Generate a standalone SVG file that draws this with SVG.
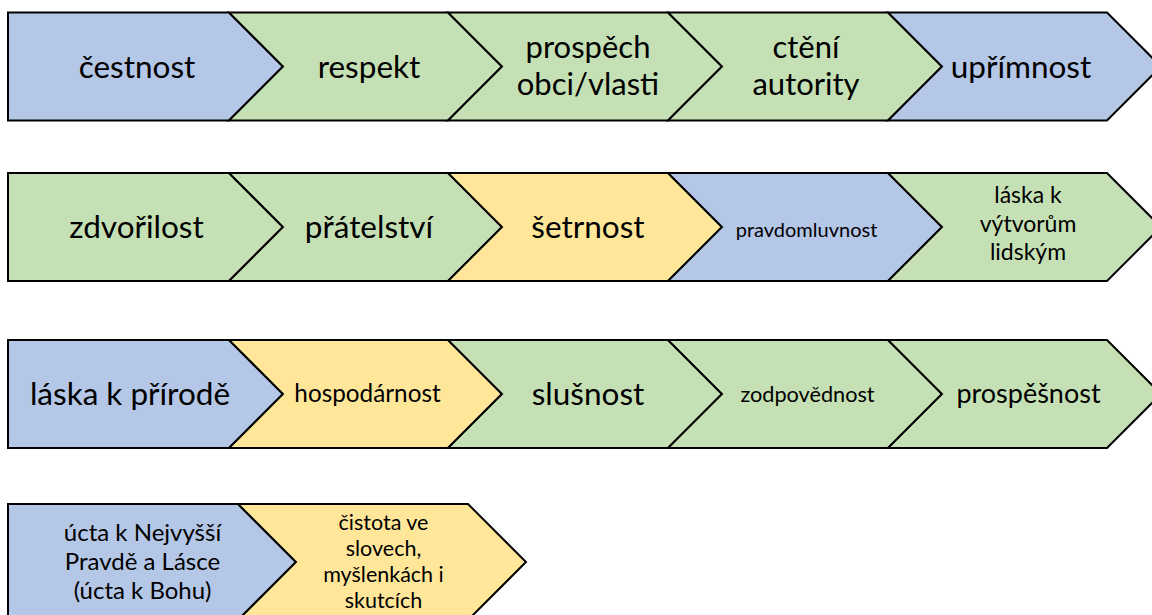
<svg xmlns="http://www.w3.org/2000/svg" width="1152" height="615" viewBox="0 0 1152 615">
<style>
.s{stroke:#000;stroke-width:2;stroke-linejoin:miter}
.b{fill:#B4C7E7}.g{fill:#C5E0B4}.y{fill:#FFE699}
text{font-family:Lato,"Liberation Sans",sans-serif;fill:#000;text-anchor:middle}
.L{font-size:31.5px}.M{font-size:31px}
</style>
<rect width="1152" height="615" fill="#fff"/>
<g id="connectors"></g>
<!-- Row 1 -->
<g id="n1"><path class="s b" d="M8,12.5H229L283,66.5L229,120.5H8Z"/><text class="L" x="137" y="77.5">čestnost</text></g>
<g id="n2"><path class="s g" d="M229,12.5H448L502,66.5L448,120.5H229L283,66.5Z"/><text class="L" x="369" y="77.5">respekt</text></g>
<g id="n3"><path class="s g" d="M448,12.5H668L722,66.5L668,120.5H448L502,66.5Z"/><text class="M" x="588" y="57.5">prospěch</text><text class="M" x="588" y="94.5">obci/vlasti</text></g>
<g id="n4"><path class="s g" d="M668,12.5H888L942,66.5L888,120.5H668L722,66.5Z"/><text class="M" x="806" y="57.5">ctění</text><text class="M" x="806" y="94.5">autority</text></g>
<g id="n5"><path class="s b" d="M888,12.5H1107L1161,66.5L1107,120.5H888L942,66.5Z"/><text class="L" x="1021" y="77.5">upřímnost</text></g>
<!-- Row 2 -->
<g id="n6"><path class="s g" d="M8,173H229L283,227L229,281H8Z"/><text class="L" x="136.5" y="237.5">zdvořilost</text></g>
<g id="n7"><path class="s g" d="M229,173H448L502,227L448,281H229L283,227Z"/><text class="L" x="369" y="237.5">přátelství</text></g>
<g id="n8"><path class="s y" d="M448,173H668L722,227L668,281H448L502,227Z"/><text class="L" x="588" y="237.5">šetrnost</text></g>
<g id="n9"><path class="s b" d="M668,173H888L942,227L888,281H668L722,227Z"/><text x="806.5" y="236.5" font-size="20">pravdomluvnost</text></g>
<g id="n10"><path class="s g" d="M888,173H1107L1161,227L1107,281H888L942,227Z"/><text x="1028" y="203" font-size="23">láska k</text><text x="1028" y="231.5" font-size="23">výtvorům</text><text x="1028" y="260" font-size="23">lidským</text></g>
<!-- Row 3 -->
<g id="n11"><path class="s b" d="M8,340H229L283,394L229,448H8Z"/><text class="L" x="130" y="404.5">láska k přírodě</text></g>
<g id="n12"><path class="s y" d="M229,340H448L502,394L448,448H229L283,394Z"/><text x="367.5" y="402" font-size="24.3">hospodárnost</text></g>
<g id="n13"><path class="s g" d="M448,340H668L722,394L668,448H448L502,394Z"/><text class="L" x="588" y="404.5">slušnost</text></g>
<g id="n14"><path class="s g" d="M668,340H888L942,394L888,448H668L722,394Z"/><text x="807.5" y="402" font-size="21.7">zodpovědnost</text></g>
<g id="n15"><path class="s g" d="M888,340H1107L1161,394L1107,448H888L942,394Z"/><text x="1028.5" y="403" font-size="27">prospěšnost</text></g>
<!-- Row 4 -->
<g id="n16"><path class="s b" d="M8,504H238L296,562L238,620H8Z"/><text x="142.5" y="540.5" font-size="24">úcta k Nejvyšší</text><text x="142.5" y="569.5" font-size="24">Pravdě a Lásce</text><text x="142.5" y="598.5" font-size="24">(úcta k Bohu)</text></g>
<g id="n17"><path class="s y" d="M238,504H468L526,562L468,620H238L296,562Z"/><text x="383.5" y="530" font-size="21.5">čistota ve</text><text x="383.5" y="556" font-size="21.5">slovech,</text><text x="383.5" y="582" font-size="21.5">myšlenkách i</text><text x="383.5" y="608" font-size="21.5">skutcích</text></g>
</svg>
